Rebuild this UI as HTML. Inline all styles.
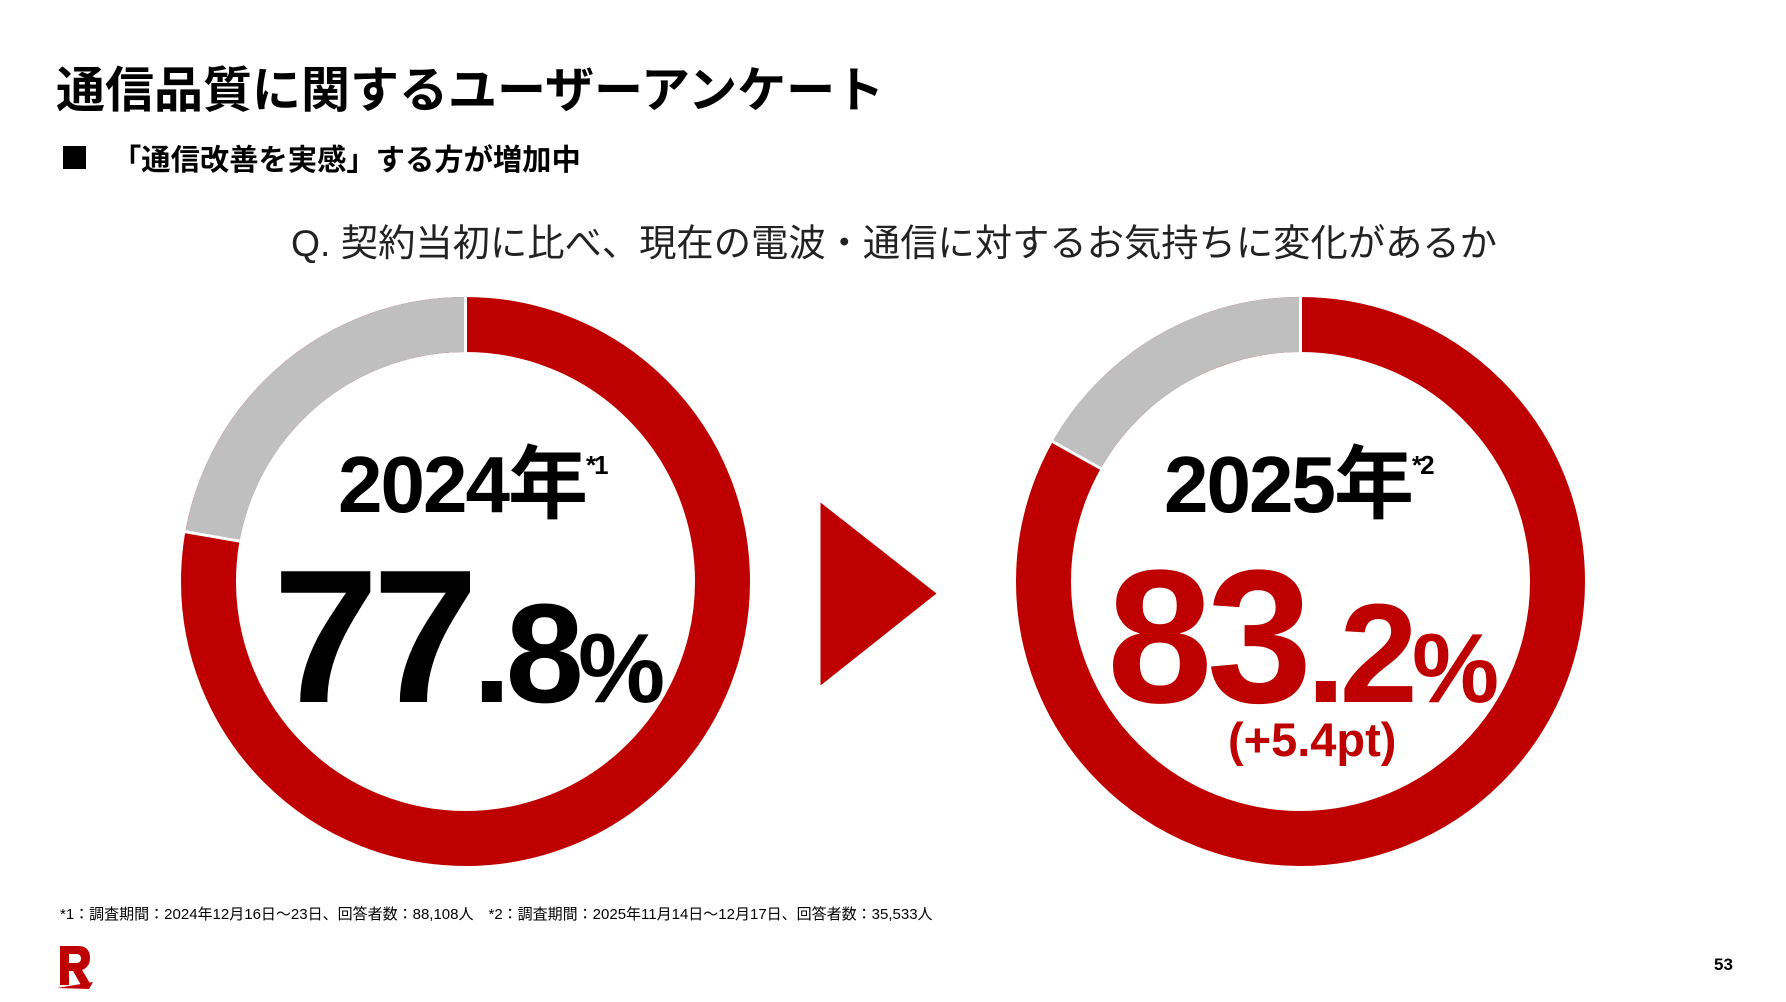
<!DOCTYPE html>
<html><head><meta charset="utf-8"><style>
body{margin:0;width:1786px;height:1002px;background:#fff;position:relative;overflow:hidden;font-family:"Liberation Sans","Noto Sans CJK JP",sans-serif;}
.a{position:absolute;white-space:nowrap;}
</style></head><body>
<div class="a" style="left:56px;top:51px;font-size:49px;font-weight:bold;color:#000;">通信品質に関するユーザーアンケート</div>
<div class="a" style="left:63px;top:146px;width:23px;height:23px;background:#000;"></div>
<div class="a" style="left:112px;top:137px;font-size:29.3px;font-weight:bold;color:#000;">「通信改善を実感」する方が増加中</div>
<div class="a" style="left:0;width:1788px;text-align:center;top:213px;font-size:37.3px;color:#222;">Q. 契約当初に比べ、現在の電波・通信に対するお気持ちに変化があるか</div>
<svg class="a" style="left:0;top:0" width="1786" height="1002">
<g transform="translate(-2.5,-2.5)">
<circle cx="468" cy="584" r="257" fill="none" stroke="#bf0000" stroke-width="55"/>
<path d="M215 539 A257 257 0 0 1 468 327" fill="none" stroke="#bfbfbf" stroke-width="55"/>
<line x1="468" y1="296" x2="468" y2="357" stroke="#fff" stroke-width="3"/>
<line x1="184.4" y1="533.6" x2="243" y2="543.8" stroke="#fff" stroke-width="3"/>
<polygon points="823,505 939,596 823,688" fill="#bf0000"/>
</g>
<g transform="translate(-5.5,-2.5)">
<circle cx="1306" cy="584" r="257" fill="none" stroke="#bf0000" stroke-width="55"/>
<path d="M1082.3 457.4 A257 257 0 0 1 1306 327" fill="none" stroke="#bfbfbf" stroke-width="55"/>
<line x1="1306" y1="296" x2="1306" y2="357" stroke="#fff" stroke-width="3"/>
<line x1="1055" y1="442.3" x2="1108" y2="472" stroke="#fff" stroke-width="3"/>
</g>
<path d="M60 946 h18 q12 0 12 12 q0 9 -8 12 l9 15 h-10 l-8 -14 h-4 v14 h-9z M69 954 v9 h7 q5 0 5 -4.5 q0 -4.5 -5 -4.5z" fill="#bf0000"/>
<path d="M57 988 l36 -6 l-4 7 z" fill="#bf0000"/>
</svg>
<div class="a" style="left:338px;top:420px;font-size:80px;font-weight:bold;letter-spacing:-2px;">2024年<sup style="font-size:26px;vertical-align:38px;">*1</sup></div>
<div class="a" style="left:273px;top:542px;font-weight:bold;color:#000;letter-spacing:-6px;line-height:1;"><span style="font-size:190px;">77</span><span style="font-size:141px;">.8</span><span style="font-size:98px;">%</span></div>
<div class="a" style="left:1164px;top:420px;font-size:80px;font-weight:bold;letter-spacing:-2px;">2025年<sup style="font-size:26px;vertical-align:38px;">*2</sup></div>
<div class="a" style="left:1107px;top:542px;font-weight:bold;color:#bf0000;letter-spacing:-6px;line-height:1;"><span style="font-size:190px;">83</span><span style="font-size:141px;">.2</span><span style="font-size:98px;">%</span></div>
<div class="a" style="left:1228px;top:712px;font-size:47px;font-weight:bold;color:#bf0000;">(+5.4pt)</div>
<div class="a" style="left:60px;top:903px;font-size:15px;color:#000;">*1：調査期間：2024年12月16日～23日、回答者数：88,108人　*2：調査期間：2025年11月14日～12月17日、回答者数：35,533人</div>
<div class="a" style="left:1714px;top:955px;font-size:17px;font-weight:bold;">53</div>
</body></html>
